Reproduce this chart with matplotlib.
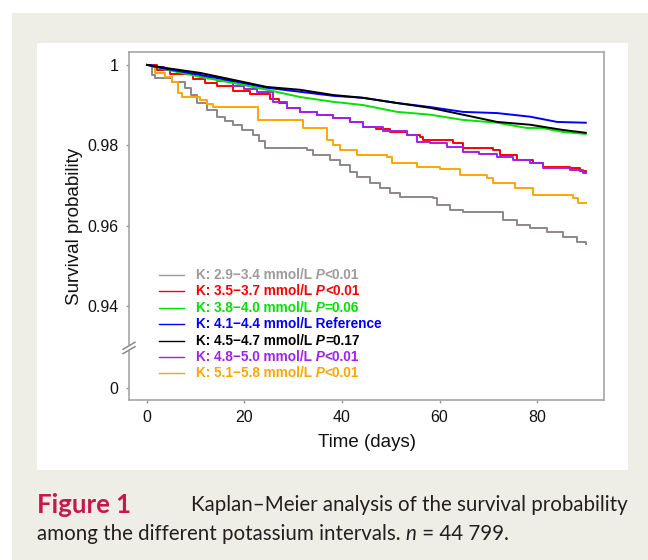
import matplotlib
matplotlib.use("Agg")
import matplotlib.pyplot as plt
from matplotlib.patches import Rectangle
import matplotlib.transforms as mtransforms

plt.rcParams['font.family'] = ['Liberation Sans', 'DejaVu Sans']

# ---------------- data ----------------
labels = ["K: 2.9\u22123.4 mmol/L", "K: 3.5\u22123.7 mmol/L", "K: 3.8\u22124.0 mmol/L",
          "K: 4.1\u22124.4 mmol/L", "K: 4.5\u22124.7 mmol/L", "K: 4.8\u22125.0 mmol/L",
          "K: 5.1\u22125.8 mmol/L"]
p_sym = ["P", "P", "P", "", "P", "P", "P"]
p_val = ["<0.01", "<0.01", "=0.06", "Reference", "=0.17", "<0.01", "<0.01"]
colors = ["#a09a9a", "#ff0000", "#00e600", "#0000ff", "#000000", "#a020f0", "#ffa500"]

gray_t = [0, 1.0, 1.6, 5.1, 7.8, 9.0, 10.3, 12.3, 14.4, 16.0, 17.6, 19.5, 21.7, 23.0, 24.2, 32.8, 34.1,
          37.5, 39.5, 41.6, 43.1, 45.7, 47.8, 49.8, 51.9, 58.7, 59.5, 62.2, 64.8, 73.0, 75.9, 78.6,
          82.1, 85.3, 88.2, 90]
gray_s = [1.0, 0.9975, 0.9968, 0.9958, 0.9943, 0.9925, 0.9905, 0.9888, 0.9871, 0.9861, 0.9851, 0.9838,
          0.9826, 0.9810, 0.9793, 0.9788, 0.9776, 0.9764, 0.9750, 0.9734, 0.9721, 0.9706, 0.9694,
          0.9681, 0.9671, 0.9669, 0.9651, 0.9639, 0.9634, 0.9614, 0.9602, 0.9594, 0.9584, 0.9572,
          0.9559, 0.9554]

orange_t = [0, 1.6, 3.7, 5.1, 6.4, 7.2, 10.9, 12.3, 13.5, 22.8, 32.0, 36.9, 38.2, 39.5, 43.1, 49.2,
            50.3, 55.4, 60.1, 64.2, 69.7, 71.0, 75.5, 79.2, 87.4, 88.4, 90]
orange_s = [1.0, 0.9980, 0.9970, 0.9958, 0.9930, 0.9920, 0.9913, 0.9903, 0.9895, 0.9863, 0.9843,
            0.9813, 0.9800, 0.9788, 0.9776, 0.9771, 0.9756, 0.9746, 0.9741, 0.9726, 0.9719, 0.9706,
            0.9694, 0.9676, 0.9669, 0.9656, 0.9656]

red_t = [0, 2.1, 4.7, 9.4, 12.0, 14.4, 17.6, 21.1, 25.2, 27.0, 28.7, 31.4, 34.9, 38.2, 41.6, 44.3,
         47.0, 49.8, 53.3, 56.0, 56.6, 62.8, 64.8, 71.0, 72.4, 75.9, 79.2, 81.2, 86.8, 88.8, 90]
red_s = [1.0, 0.9988, 0.9978, 0.9965, 0.9955, 0.9948, 0.9936, 0.9928, 0.9916, 0.9905, 0.9893, 0.9883,
         0.9876, 0.9868, 0.9858, 0.9846, 0.9840, 0.9833, 0.9826, 0.9821, 0.9813, 0.9806, 0.9793,
         0.9788, 0.9776, 0.9763, 0.9756, 0.9746, 0.9744, 0.9736, 0.9734]

purple_t = [0, 1.2, 3.5, 6.2, 8.5, 10.9, 14.4, 17.6, 20.0, 22.6, 25.8, 28.7, 31.4, 34.9, 38.2, 41.6,
            44.3, 48.5, 53.3, 55.4, 58.1, 61.5, 64.8, 68.0, 71.8, 75.0, 78.6, 81.2, 86.8, 89.4, 90]
purple_s = [1.0, 0.9995, 0.9988, 0.9982, 0.9977, 0.9970, 0.9960, 0.9947, 0.9940, 0.9932, 0.9908,
            0.9893, 0.9883, 0.9876, 0.9868, 0.9858, 0.9846, 0.9836, 0.9826, 0.9808, 0.9806, 0.9795,
            0.9783, 0.9778, 0.9771, 0.9763, 0.9756, 0.9744, 0.9739, 0.9731, 0.9731]

green_t = [0, 4.1, 10.9, 17.6, 24.6, 31.4, 38.2, 44.3, 51.3, 58.1, 64.8, 71.8, 77.9, 81.0, 85.3, 90]
green_s = [1.0, 0.9988, 0.9970, 0.9955, 0.9938, 0.9920, 0.9908, 0.9900, 0.9883, 0.9876, 0.9863,
           0.9856, 0.9843, 0.9843, 0.9833, 0.9828]

black_t = [0, 4.0, 10.9, 17.6, 24.6, 31.4, 38.2, 44.3, 51.3, 58.1, 64.8, 71.8, 78.6, 85.3, 90]
black_s = [1.0, 0.9992, 0.9980, 0.9963, 0.9945, 0.9938, 0.9925, 0.9918, 0.9905, 0.9893, 0.9876,
           0.9858, 0.9851, 0.9838, 0.9831]

blue_t = [0, 4.0, 10.9, 17.6, 24.6, 31.4, 38.2, 44.3, 51.3, 58.1, 64.8, 71.8, 78.6, 84.1, 90]
blue_s = [1.0, 0.9990, 0.9975, 0.9960, 0.9943, 0.9933, 0.9923, 0.9918, 0.9905, 0.9895, 0.9883,
          0.9880, 0.9871, 0.9858, 0.9856]

series = [(gray_t, gray_s, "steps-post"), (red_t, red_s, "steps-post"),
          (green_t, green_s, "default"), (blue_t, blue_s, "default"),
          (black_t, black_s, "default"), (purple_t, purple_s, "steps-post"),
          (orange_t, orange_s, "steps-post")]

x_ticks = [0, 20, 40, 60, 80]
y_ticks = [0.9196, 0.94, 0.96, 0.98, 1.0]
y_ticklabels = ["0", "0.94", "0.96", "0.98", "1"]

# ---------------- figure ----------------
W, H = 648, 560
fig = plt.figure(figsize=(W / 100, H / 100), dpi=100, facecolor="white")

def px_rect(x0, y0, x1, y1, color):
    fig.patches.append(Rectangle((x0 / W, 1 - y1 / H), (x1 - x0) / W, (y1 - y0) / H,
                                 transform=fig.transFigure, facecolor=color,
                                 edgecolor="none", zorder=-10))

px_rect(12, 13, 648, 560, "#efeee6")
px_rect(37, 43, 628, 470, "white")

ax_l, ax_r, ax_t, ax_b = 129, 604, 52, 400
ax = fig.add_axes([ax_l / W, 1 - ax_b / H, (ax_r - ax_l) / W, (ax_b - ax_t) / H])
ax.set_facecolor("white")

order = [0, 6, 1, 5, 2, 3, 4]
for i in order:
    t, s, ds = series[i]
    ax.plot(t, s, drawstyle=ds, color=colors[i] if i != 0 else "#8f8787", lw=1.4, zorder=3)

ax.set_xlim(-3.69, 93.74)
ax.set_ylim(0.9166, 1.0032)
ax.set_xticks(x_ticks)
ax.set_xticklabels([str(v) for v in x_ticks])
ax.set_yticks(y_ticks)
ax.set_yticklabels(y_ticklabels)
ax.tick_params(axis="both", labelsize=11.5, colors="#9a9a9a", labelcolor="#111111",
               length=2.5, width=1.0, pad=5)
for sp in ax.spines.values():
    sp.set_color("#a5a5a5")
    sp.set_linewidth(1.2)

ax.set_xlabel("Time (days)", fontsize=13.5, color="#111111", labelpad=6)
ax.set_ylabel("Survival probability", fontsize=13.5, color="#111111", labelpad=3)

# axis break marks on the y axis
yb = 0.92955
blend = mtransforms.blended_transform_factory(ax.transAxes, ax.transData)
ax.plot([0, 0], [yb - 0.0007, yb + 0.0007], transform=blend, color="white", lw=3,
        clip_on=False, zorder=6, solid_capstyle="butt")
dxa = 6 / (ax_r - ax_l)
dyd = 3.5 / 4017
off = 2.2 / 4017
for o in (-off, off):
    ax.plot([-dxa, dxa], [yb + o - dyd, yb + o + dyd], transform=blend, color="#8a8a8a",
            lw=1.1, clip_on=False, zorder=7)

# legend (manual, to mix bold and bold-italic)
leg_y0 = (ax_b - 275) / (ax_b - ax_t)
leg_dy = 16.4 / (ax_b - ax_t)
for i in range(len(labels)):
    y = leg_y0 - i * leg_dy
    ax.plot([0.063, 0.116], [y, y], transform=ax.transAxes, color=colors[i], lw=1.0, zorder=4)
    if p_sym[i]:
        t1 = ax.text(0.141, y, labels[i], transform=ax.transAxes, color=colors[i],
                     fontsize=9.8, fontweight="bold", va="center", ha="left")
        t2 = ax.annotate(" " + p_sym[i], xy=(1, 0), xycoords=t1, va="bottom", ha="left",
                         color=colors[i], fontsize=9.8, fontweight="bold", fontstyle="italic")
        ax.annotate(p_val[i], xy=(1, 0), xycoords=t2, va="bottom", ha="left",
                    color=colors[i], fontsize=9.8, fontweight="bold")
    else:
        ax.text(0.141, y, labels[i] + " " + p_val[i], transform=ax.transAxes, color=colors[i],
                fontsize=9.8, fontweight="bold", va="center", ha="left")

# caption
cap_font = ["Lato", "DejaVu Sans"]
cap_size = 14.8
fig.text(37 / W, 1 - 505 / H, "Figure 1", fontsize=18.5, fontweight="bold",
         color="#c8174a", family=cap_font, va="center", ha="left")
fig.text(628 / W, 1 - 505 / H, "Kaplan\u2013Meier analysis of the survival probability",
         fontsize=cap_size, color="#231f20", family=cap_font, va="center", ha="right")
c2 = fig.text(37 / W, 1 - 534 / H, "among the different potassium intervals. ", fontsize=cap_size,
              color="#231f20", family=cap_font, va="center", ha="left")
a1 = fig.text(0, 0, "", fontsize=1)
a1.remove()
a1 = plt.annotate("n", xy=(1, 0), xycoords=c2, va="bottom", ha="left", fontsize=cap_size,
                  color="#231f20", family=cap_font, fontstyle="italic", annotation_clip=False)
plt.annotate(" = 44 799.", xy=(1, 0), xycoords=a1, va="bottom", ha="left", fontsize=cap_size,
             color="#231f20", family=cap_font, annotation_clip=False)

fig.savefig("out.png", dpi=100, facecolor="white")
